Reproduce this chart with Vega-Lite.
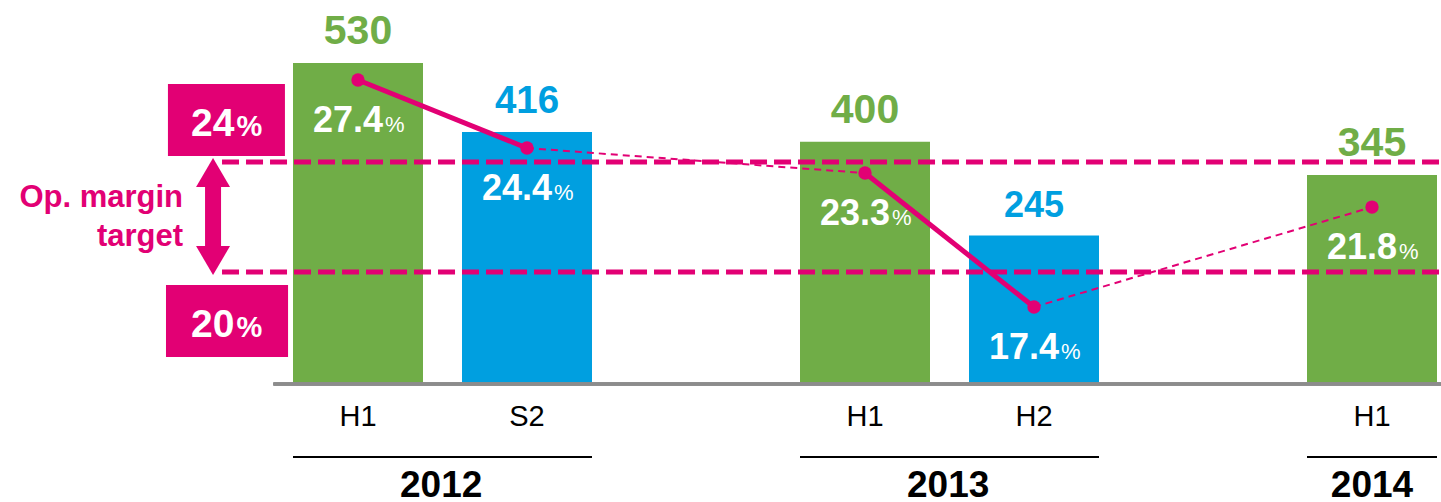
{
  "$schema": "https://vega.github.io/schema/vega-lite/v6.json",
  "width": 1313,
  "height": 364,
  "autosize": {"type": "none"},
  "padding": {"left": 124, "right": 4, "top": 20, "bottom": 118},
  "background": "white",
  "config": {"view": {"stroke": null}, "font": "Liberation Sans", "text": {"font": "Liberation Sans"}},
  "datasets": {
    "halves": [
      {"key": "2012 H1", "year": "2012", "half": "H1", "value": 530, "margin": 27.4},
      {"key": "2012 S2", "year": "2012", "half": "S2", "value": 416, "margin": 24.4},
      {"key": "2013 H1", "year": "2013", "half": "H1", "value": 400, "margin": 23.3},
      {"key": "2013 H2", "year": "2013", "half": "H2", "value": 245, "margin": 17.4},
      {"key": "2014 H1", "year": "2014", "half": "H1", "value": 345, "margin": 21.8}
    ],
    "targets": [{"target": 24}, {"target": 20}],
    "years": [
      {"year": "2012", "first": "2012 H1", "last": "2012 S2"},
      {"year": "2013", "first": "2013 H1", "last": "2013 H2"},
      {"year": "2014", "first": "2014 H1", "last": "2014 H1"}
    ],
    "note": [{"text": "Op. margin\ntarget"}]
  },
  "layer": [
    {
      "data": {"name": "halves"},
      "layer": [
        {
          "mark": {"type": "bar"},
          "encoding": {
            "x": {
              "field": "key", "type": "nominal",
              "scale": {"domain": ["T", "2012 H1", "2012 S2", "g1", "2013 H1", "2013 H2", "g2", "2014 H1"], "paddingInner": 0.230769, "paddingOuter": 0},
              "axis": {"title": null, "orient": "bottom", "labels": true, "domain": false, "ticks": false, "grid": false, "labelAngle": 0, "labelFontSize": 29, "labelColor": "black", "labelPadding": 18, "labelFont": "Liberation Sans",
                "labelExpr": "slice(datum.value, 5)"}
            },
            "y": {"field": "value", "type": "quantitative", "scale": {"domain": [0, 601], "nice": false}, "axis": null},
            "color": {"field": "half", "type": "nominal", "scale": {"domain": ["H1", "S2", "H2"], "range": ["#70AD47", "#009FE0", "#009FE0"]}, "legend": null}
          }
        },
        {
          "mark": {"type": "text", "baseline": "alphabetic", "dy": -19, "fontWeight": "bold"},
          "encoding": {
            "x": {"field": "key", "type": "nominal"},
            "y": {"field": "value", "type": "quantitative", "axis": null},
            "text": {"field": "value", "type": "quantitative"},
            "color": {"field": "half", "type": "nominal", "legend": null},
            "size": {"field": "half", "type": "ordinal", "scale": {"domain": ["H1", "S2", "H2"], "range": [41, 36, 36]}, "legend": null}
          }
        },
        {
          "mark": {"type": "rule", "color": "#8C8C8C", "strokeWidth": 3},
          "encoding": {
            "x": {"datum": "2012 H1", "type": "nominal", "bandPosition": -0.15},
            "x2": {"datum": "2014 H1", "bandPosition": 1.04},
            "y": {"datum": 0, "type": "quantitative", "axis": null}
          }
        },
        {
          "data": {"name": "years"},
          "mark": {"type": "rule", "color": "black", "strokeWidth": 2},
          "encoding": {
            "x": {"field": "first", "type": "nominal", "bandPosition": 0},
            "x2": {"field": "last", "bandPosition": 1},
            "y": {"datum": -120.5, "type": "quantitative", "axis": null}
          }
        },
        {
          "data": {"name": "years"},
          "transform": [{"filter": "datum.first != datum.last"}],
          "mark": {"type": "text", "fontSize": 37, "fontWeight": "bold", "baseline": "middle", "color": "black"},
          "encoding": {
            "x": {"field": "first", "type": "nominal", "bandPosition": 1.14},
            "y": {"datum": -168, "type": "quantitative", "axis": null},
            "text": {"field": "year", "type": "nominal"}
          }
        },
        {
          "data": {"name": "years"},
          "transform": [{"filter": "datum.first == datum.last"}],
          "mark": {"type": "text", "fontSize": 37, "fontWeight": "bold", "baseline": "middle", "color": "black"},
          "encoding": {
            "x": {"field": "first", "type": "nominal", "bandPosition": 0.5},
            "y": {"datum": -168, "type": "quantitative", "axis": null},
            "text": {"field": "year", "type": "nominal"}
          }
        }
      ]
    },
    {
      "data": {"name": "targets"},
      "layer": [
        {
          "mark": {"type": "rule", "color": "#E20074", "strokeWidth": 5, "strokeDash": [17, 7]},
          "encoding": {
            "x": {"datum": "T", "type": "nominal", "bandPosition": 0.754},
            "x2": {"datum": "2014 H1", "bandPosition": 1.04},
            "y": {"field": "target", "type": "quantitative", "scale": {"domain": [15.927, 29.164], "nice": false, "zero": false}, "axis": null}
          }
        },
        {
          "transform": [{"filter": "datum.target == 24"}],
          "mark": {"type": "rect", "color": "#E20074"},
          "encoding": {
            "x": {"datum": "T", "type": "nominal", "bandPosition": 0.338},
            "x2": {"datum": "T", "bandPosition": 1.238},
            "y": {"datum": 26.836, "type": "quantitative", "axis": null},
            "y2": {"datum": 24.218}
          }
        },
        {
          "transform": [{"filter": "datum.target == 20"}],
          "mark": {"type": "rect", "color": "#E20074"},
          "encoding": {
            "x": {"datum": "T", "type": "nominal", "bandPosition": 0.323},
            "x2": {"datum": "T", "bandPosition": 1.262},
            "y": {"datum": 19.527, "type": "quantitative", "axis": null},
            "y2": {"datum": 16.909}
          }
        },
        {
          "transform": [{"filter": "datum.target == 24"}],
          "mark": {"type": "text", "color": "white", "fontSize": 39, "fontWeight": "bold", "align": "right", "baseline": "alphabetic", "dx": 8},
          "encoding": {
            "x": {"datum": "T", "type": "nominal", "bandPosition": 0.788},
            "y": {"datum": 24.945, "type": "quantitative", "axis": null},
            "text": {"field": "target", "type": "quantitative"}
          }
        },
        {
          "transform": [{"filter": "datum.target == 24"}],
          "mark": {"type": "text", "color": "white", "fontSize": 29, "fontWeight": "bold", "align": "left", "baseline": "alphabetic", "dx": 10, "text": "%"},
          "encoding": {
            "x": {"datum": "T", "type": "nominal", "bandPosition": 0.788},
            "y": {"datum": 24.945, "type": "quantitative", "axis": null}
          }
        },
        {
          "transform": [{"filter": "datum.target == 20"}],
          "mark": {"type": "text", "color": "white", "fontSize": 39, "fontWeight": "bold", "align": "right", "baseline": "alphabetic", "dx": 8},
          "encoding": {
            "x": {"datum": "T", "type": "nominal", "bandPosition": 0.788},
            "y": {"datum": 17.636, "type": "quantitative", "axis": null},
            "text": {"field": "target", "type": "quantitative"}
          }
        },
        {
          "transform": [{"filter": "datum.target == 20"}],
          "mark": {"type": "text", "color": "white", "fontSize": 29, "fontWeight": "bold", "align": "left", "baseline": "alphabetic", "dx": 10, "text": "%"},
          "encoding": {
            "x": {"datum": "T", "type": "nominal", "bandPosition": 0.788},
            "y": {"datum": 17.636, "type": "quantitative", "axis": null}
          }
        },
        {
          "data": {"name": "note"},
          "mark": {"type": "text", "color": "#E20074", "fontSize": 31, "fontWeight": "bold", "align": "right", "baseline": "middle", "lineBreak": "\n", "lineHeight": 39},
          "encoding": {
            "x": {"datum": "T", "type": "nominal", "bandPosition": 0.454},
            "y": {"datum": 22.69, "type": "quantitative", "axis": null},
            "text": {"field": "text", "type": "nominal"}
          }
        },
        {
          "data": {"name": "note"},
          "mark": {"type": "rule", "color": "#E20074", "strokeWidth": 16},
          "encoding": {
            "x": {"datum": "T", "type": "nominal", "bandPosition": 0.685},
            "y": {"datum": 23.618, "type": "quantitative", "axis": null},
            "y2": {"datum": 20.418}
          }
        },
        {
          "data": {"name": "note"},
          "mark": {"type": "point", "filled": true, "opacity": 1, "color": "#E20074", "size": 1156, "shape": "M-1,0.85L0,-0.85L1,0.85Z"},
          "encoding": {
            "x": {"datum": "T", "type": "nominal", "bandPosition": 0.685},
            "y": {"datum": 23.618, "type": "quantitative", "axis": null}
          }
        },
        {
          "data": {"name": "note"},
          "mark": {"type": "point", "filled": true, "opacity": 1, "color": "#E20074", "size": 1156, "shape": "M-1,-0.85L0,0.85L1,-0.85Z"},
          "encoding": {
            "x": {"datum": "T", "type": "nominal", "bandPosition": 0.685},
            "y": {"datum": 20.418, "type": "quantitative", "axis": null}
          }
        }
      ]
    },
    {
      "data": {"name": "halves"},
      "layer": [
        {
          "transform": [
            {"window": [
              {"op": "lead", "field": "key", "as": "next_key"},
              {"op": "lead", "field": "margin", "as": "next_margin"},
              {"op": "lead", "field": "year", "as": "next_year"}
            ]},
            {"filter": "datum.next_key != null && datum.next_year != datum.year"}
          ],
          "mark": {"type": "rule", "color": "#E20074", "strokeWidth": 2, "strokeDash": [7, 5]},
          "encoding": {
            "x": {"field": "key", "type": "nominal", "bandPosition": 0.5},
            "x2": {"field": "next_key", "bandPosition": 0.5},
            "y": {"field": "margin", "type": "quantitative", "scale": {"domain": [14.01, 30.04], "nice": false, "zero": false}, "axis": null},
            "y2": {"field": "next_margin"}
          }
        },
        {
          "mark": {"type": "line", "color": "#E20074", "strokeWidth": 5},
          "encoding": {
            "x": {"field": "key", "type": "nominal"},
            "y": {"field": "margin", "type": "quantitative", "axis": null},
            "detail": {"field": "year", "type": "nominal"}
          }
        },
        {
          "mark": {"type": "point", "filled": true, "opacity": 1, "color": "#E20074", "size": 180},
          "encoding": {
            "x": {"field": "key", "type": "nominal"},
            "y": {"field": "margin", "type": "quantitative", "axis": null}
          }
        },
        {
          "mark": {"type": "text", "color": "white", "fontSize": 36, "fontWeight": "bold", "align": "right", "baseline": "alphabetic", "dx": 25, "dy": 52},
          "encoding": {
            "x": {"field": "key", "type": "nominal"},
            "y": {"field": "margin", "type": "quantitative", "axis": null},
            "text": {"field": "margin", "type": "quantitative", "format": ".1f"}
          }
        },
        {
          "mark": {"type": "text", "color": "white", "fontSize": 22, "align": "left", "baseline": "alphabetic", "dx": 27, "dy": 52, "text": "%"},
          "encoding": {
            "x": {"field": "key", "type": "nominal"},
            "y": {"field": "margin", "type": "quantitative", "axis": null}
          }
        }
      ]
    }
  ],
  "resolve": {"scale": {"y": "independent"}}
}
